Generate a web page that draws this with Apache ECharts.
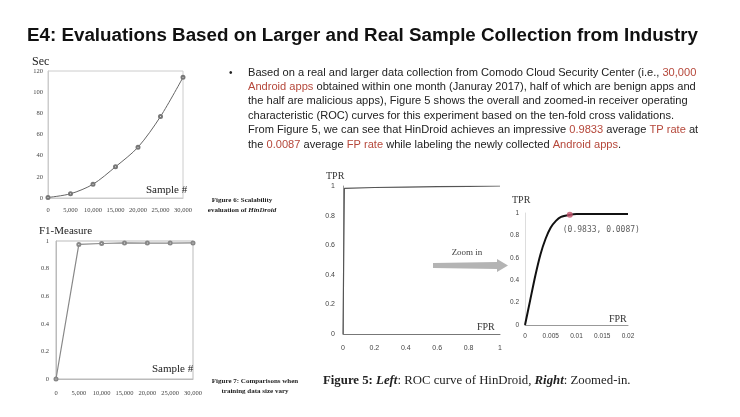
<!DOCTYPE html>
<html>
<head>
<meta charset="utf-8">
<script src="https://cdn.jsdelivr.net/npm/echarts@6/dist/echarts.min.js"></script>
<style>
  html, body { margin: 0; padding: 0; background: #fff; }
  #chart { width: 740px; height: 417px; }
</style>
</head>
<body>
<div id="chart"></div>
<script>
// scalability (Figure 6)
const scaleSamples = [0, 5000, 10000, 15000, 20000, 25000, 30000]
const scaleSeconds = [0.5, 4, 13, 29.5, 48, 77, 114]
// F1 vs training size (Figure 7)
const f1Samples = [0, 5000, 10000, 15000, 20000, 25000, 30000]
const f1Values = [0, 0.975, 0.982, 0.986, 0.985, 0.985, 0.986]
// ROC overall (Figure 5 left)
const rocFpr = [0, 0.0087, 0.02, 0.2, 0.4, 0.6, 0.8, 1]
const rocTpr = [0, 0.9833, 0.985, 0.99, 0.993, 0.996, 0.998, 1]
// ROC zoomed (Figure 5 right)
const zoomFpr = [0, 0.001, 0.002, 0.003, 0.004, 0.005, 0.006, 0.007, 0.0087, 0.01, 0.015, 0.02]
const zoomTpr = [0, 0.22, 0.44, 0.63, 0.77, 0.87, 0.93, 0.965, 0.9833, 0.99, 0.99, 0.99]
const markPoint = [0.0087, 0.9833]

const pairs = (xs, ys) => xs.map((x, i) => [x, ys[i]])

const RED = '#b5473a'
const serif = '"Liberation Serif", serif'
const sans = '"Liberation Sans", sans-serif'

const paraLines = [
  [['Based on a real and larger data collection from Comodo Cloud Security Center (i.e., ', 'n'], ['30,000', 'r']],
  [['Android apps', 'r'], [' obtained within one month (Januray 2017), half of which are benign apps and', 'n']],
  [['the half are malicious apps), Figure 5 shows the overall and zoomed-in receiver operating', 'n']],
  [['characteristic (ROC) curves for this experiment based on the ten-fold cross validations.', 'n']],
  [['From Figure 5, we can see that HinDroid achieves an impressive ', 'n'], ['0.9833', 'r'], [' average ', 'n'], ['TP rate', 'r'], [' at', 'n']],
  [['the ', 'n'], ['0.0087', 'r'], [' average ', 'n'], ['FP rate', 'r'], [' while labeling the newly collected ', 'n'], ['Android apps', 'r'], ['.', 'n']]
]

const chart = echarts.init(document.getElementById('chart'))

const graphics = []

// paragraph
graphics.push({ type: 'text', left: 229, top: 68, style: { text: '•', fontSize: 10, fill: '#222', fontFamily: sans } })
paraLines.forEach((line, i) => {
  graphics.push({
    type: 'text',
    left: 248,
    top: 67 + i * 14.4,
    style: {
      text: line.map(([t, s]) => '{' + s + '|' + t + '}').join(''),
      rich: {
        n: { fontSize: 11.1, fill: '#222', fontFamily: sans },
        r: { fontSize: 11.1, fill: RED, fontFamily: sans }
      }
    }
  })
})

// axis names and captions
const txt = (x, y, text, size, extra) => ({
  type: 'text', x: x, y: y,
  style: Object.assign({ text: text, fontSize: size, fill: '#222', fontFamily: serif, textVerticalAlign: 'middle' }, extra || {})
})
graphics.push(
  txt(32, 62, 'Sec', 12),
  txt(146, 190, 'Sample #', 11),
  txt(39, 231, 'F1-Measure', 11),
  txt(152, 369, 'Sample #', 11),
  txt(326, 176, 'TPR', 10, { fill: '#333' }),
  txt(477, 327, 'FPR', 10, { fill: '#333' }),
  txt(512, 200, 'TPR', 10, { fill: '#333' }),
  txt(609, 319, 'FPR', 10, { fill: '#333' }),
  txt(467, 253, 'Zoom in', 9, { fill: '#444', textAlign: 'center' }),
  txt(242, 200, 'Figure 6: Scalability', 7, { textAlign: 'center', fontWeight: 'bold' }),
  {
    type: 'text', x: 242, y: 210,
    style: {
      text: '{a|evaluation of }{b|HinDroid}', textAlign: 'center', textVerticalAlign: 'middle',
      rich: {
        a: { fontSize: 7, fontFamily: serif, fontWeight: 'bold', fill: '#222' },
        b: { fontSize: 7, fontFamily: serif, fontWeight: 'bold', fontStyle: 'italic', fill: '#222' }
      }
    }
  },
  txt(255, 381, 'Figure 7: Comparisons when', 7, { textAlign: 'center', fontWeight: 'bold' }),
  txt(255, 391, 'training data size vary', 7, { textAlign: 'center', fontWeight: 'bold' }),
  {
    type: 'text', x: 323, y: 381,
    style: {
      text: '{b|Figure 5: }{i|Left}{n|: ROC curve of HinDroid, }{i|Right}{n|: Zoomed-in.}',
      textVerticalAlign: 'middle',
      rich: {
        b: { fontSize: 12.8, fontFamily: serif, fontWeight: 'bold', fill: '#222' },
        i: { fontSize: 12.8, fontFamily: serif, fontWeight: 'bold', fontStyle: 'italic', fill: '#222' },
        n: { fontSize: 12.8, fontFamily: serif, fill: '#222' }
      }
    }
  },
  // zoom-in arrow
  {
    type: 'polygon',
    shape: { points: [[433, 263], [497, 262], [497, 259], [508, 265.5], [497, 272], [497, 269], [433, 268]] },
    style: { fill: '#b4b4b4' }
  }
)

const valAxis = (gi, min, max, interval, opt) => Object.assign({
  type: 'value', gridIndex: gi, min: min, max: max, interval: interval,
  splitLine: { show: false }, axisTick: { show: false },
  axisLine: { show: true, lineStyle: { color: '#999', width: 1 } }
}, opt)

const lblSerif = { fontSize: 6.5, color: '#444', fontFamily: serif }
const lblSans = { fontSize: 7, color: '#444', fontFamily: sans }

chart.setOption({
  animation: false,
  backgroundColor: '#fff',
  title: {
    text: 'E4: Evaluations Based on Larger and Real Sample Collection from Industry',
    left: 22, top: 21,
    textStyle: { fontSize: 18.8, fontWeight: 'bold', color: '#111', fontFamily: sans }
  },
  grid: [
    { left: 48, top: 71, width: 135, height: 127, show: true, borderColor: '#ccc', borderWidth: 1 },
    { left: 56, top: 241, width: 137, height: 138, show: true, borderColor: '#bbb', borderWidth: 1 },
    { left: 343, top: 186, width: 157, height: 148 },
    { left: 525, top: 213, width: 103, height: 112 }
  ],
  xAxis: [
    valAxis(0, 0, 30000, 5000, { axisLabel: Object.assign({ margin: 9 }, lblSerif), axisLine: { lineStyle: { color: '#ccc' } } }),
    valAxis(1, 0, 30000, 5000, { axisLabel: Object.assign({ margin: 11 }, lblSerif), axisLine: { lineStyle: { color: '#bbb' } } }),
    valAxis(2, 0, 1, 0.2, { axisLabel: Object.assign({ margin: 11 }, lblSans), axisLine: { lineStyle: { color: '#777' } } }),
    valAxis(3, 0, 0.02, 0.005, { axisLabel: Object.assign({ margin: 8 }, lblSans, { fontSize: 6.5 }), axisLine: { lineStyle: { color: '#999' } } })
  ],
  yAxis: [
    valAxis(0, 0, 120, 20, { axisLabel: Object.assign({ margin: 5 }, lblSerif), axisLine: { lineStyle: { color: '#ccc' } } }),
    valAxis(1, 0, 1, 0.2, { axisLabel: Object.assign({ margin: 7 }, lblSerif), axisLine: { lineStyle: { color: '#bbb' } } }),
    valAxis(2, 0, 1, 0.2, { axisLabel: Object.assign({ margin: 8 }, lblSans), axisLine: { lineStyle: { color: '#999' } } }),
    valAxis(3, 0, 1, 0.2, { axisLabel: Object.assign({ margin: 6 }, lblSans, { fontSize: 6.5 }), axisLine: { lineStyle: { color: '#ddd' } } })
  ],
  series: [
    {
      type: 'line', xAxisIndex: 0, yAxisIndex: 0, data: pairs(scaleSamples, scaleSeconds),
      smooth: 0.3, symbol: 'emptyCircle', symbolSize: 3,
      lineStyle: { color: '#666', width: 1 }, itemStyle: { color: '#777', borderWidth: 0.8 }
    },
    {
      type: 'line', xAxisIndex: 1, yAxisIndex: 1, data: pairs(f1Samples, f1Values),
      symbol: 'emptyCircle', symbolSize: 3,
      lineStyle: { color: '#888', width: 1.2 }, itemStyle: { color: '#888', borderWidth: 0.8 }
    },
    {
      type: 'line', xAxisIndex: 2, yAxisIndex: 2, data: pairs(rocFpr, rocTpr),
      symbol: 'none', lineStyle: { color: '#555', width: 1.2 }
    },
    {
      type: 'line', xAxisIndex: 3, yAxisIndex: 3, data: pairs(zoomFpr, zoomTpr),
      symbol: 'none', smooth: 0.25, lineStyle: { color: '#111', width: 2 }
    },
    {
      type: 'scatter', xAxisIndex: 3, yAxisIndex: 3, data: [markPoint],
      symbolSize: 6, itemStyle: { color: '#c0506a' }, z: 5,
      label: {
        show: true, position: 'bottom', align: 'left', offset: [-7, 3],
        formatter: '(0.9833, 0.0087)',
        fontSize: 8, color: '#333', fontFamily: '"DejaVu Sans Mono", monospace'
      }
    }
  ],
  graphic: graphics
})
</script>
</body>
</html>
